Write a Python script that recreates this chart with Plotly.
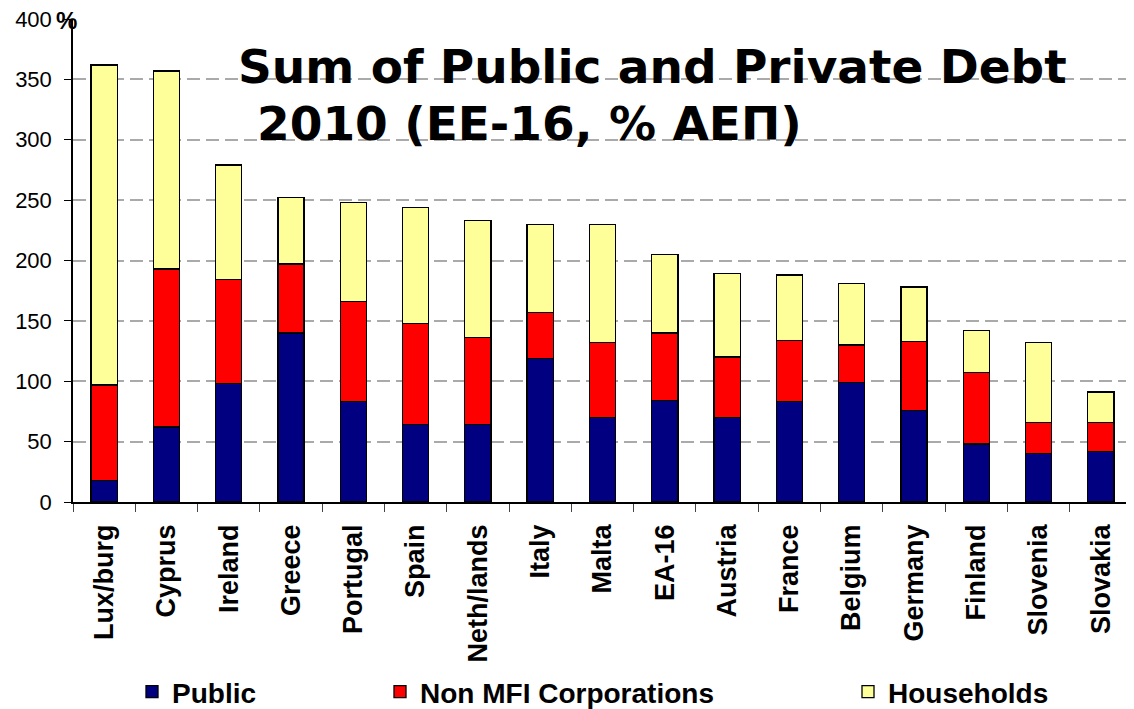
import plotly.graph_objects as go

countries = ["Lux/burg", "Cyprus", "Ireland", "Greece", "Portugal", "Spain", "Neth/lands",
             "Italy", "Malta", "EA-16", "Austria", "France", "Belgium", "Germany",
             "Finland", "Slovenia", "Slovakia"]

# segment sizes (% of GDP)
public = [18, 62, 98, 140, 83, 64, 64, 119, 70, 84, 70, 83, 99, 76, 48, 40, 42]
non_mfi = [79, 131, 86, 57, 83, 84, 72, 38, 62, 56, 50, 51, 31, 57, 59, 26, 24]
households = [265, 164, 95, 55, 82, 96, 97, 73, 98, 65, 69, 54, 51, 45, 35, 66, 25]

series = [
    ("Public", public, "#000080", "legend"),
    ("Non MFI Corporations", non_mfi, "#FF0000", "legend2"),
    ("Households", households, "#FFFF99", "legend3"),
]

# the page body has an 8px margin, so the figure starts at (8, 8) of the window
OFF = 8
W, H = 1134 - OFF, 709 - OFF
# plot rectangle in window pixels
PL, PT, PR, PB = 73, 19, 1132, 502
L, T = PL - OFF, PT - OFF
R, B = (OFF + W) - PR, (OFF + H) - PB
pw, ph = PR - PL, PB - PT


def px_x(x):
    return (x - PL) / pw


def px_y(y):
    return (PB - y) / ph


fig = go.Figure()
for name, vals, col, leg in series:
    fig.add_trace(go.Bar(
        x=countries, y=vals, name=name, legend=leg, showlegend=True,
        marker=dict(color=col, line=dict(color="black", width=1.3)),
    ))

leg_font = dict(family="Liberation Sans, Arial, sans-serif", size=28, color="black",
                weight="bold")
leg_common = dict(orientation="h", yanchor="middle", y=px_y(692), xanchor="left",
                  font=leg_font, bgcolor="rgba(0,0,0,0)", visible=True)

fig.update_layout(
    width=W, height=H,
    margin=dict(l=L, r=R, t=T, b=B, autoexpand=False),
    showlegend=True,
    barmode="stack",
    bargap=0.58,
    plot_bgcolor="white",
    paper_bgcolor="white",
    legend=dict(x=px_x(132), **leg_common),
    legend2=dict(x=px_x(380), **leg_common),
    legend3=dict(x=px_x(848), **leg_common),
    xaxis=dict(
        tickangle=-90,
        tickfont=dict(family="Liberation Sans, Arial, sans-serif", size=27, color="black",
                      weight="bold"),
        showline=True, linecolor="black", linewidth=1.5,
        ticks="outside", tickson="boundaries", ticklen=8, tickcolor="#444",
        ticklabelstandoff=10,
        showgrid=False, automargin=False,
    ),
    yaxis=dict(
        range=[0, 400], dtick=50,
        tickfont=dict(family="Liberation Sans, Arial, sans-serif", size=22, color="black"),
        showline=True, linecolor="black", linewidth=1.5,
        ticks="outside", ticklen=7, tickcolor="black",
        ticklabelstandoff=8, ticklabeloverflow="allow",
        showgrid=True, gridcolor="#aaaaaa", gridwidth=1.5, griddash="13px,6px",
        zeroline=False, automargin=False,
    ),
    annotations=[
        dict(text="<b>%</b>", xref="paper", yref="paper", x=px_x(54), y=px_y(20),
             xanchor="left", yanchor="middle", showarrow=False,
             font=dict(family="Liberation Sans, Arial, sans-serif", size=24, color="black")),
        dict(text="<b>Sum of Public and Private Debt</b>", xref="paper", yref="paper",
             x=px_x(236), y=px_y(66), xanchor="left", yanchor="middle", showarrow=False,
             font=dict(family="DejaVu Sans", size=47, color="black")),
        dict(text="<b>2010 (ΕΕ-16, % ΑΕΠ)</b>", xref="paper", yref="paper",
             x=px_x(255), y=px_y(124), xanchor="left", yanchor="middle", showarrow=False,
             font=dict(family="DejaVu Sans", size=47, color="black")),
    ],
)

fig.write_html("out.html")
